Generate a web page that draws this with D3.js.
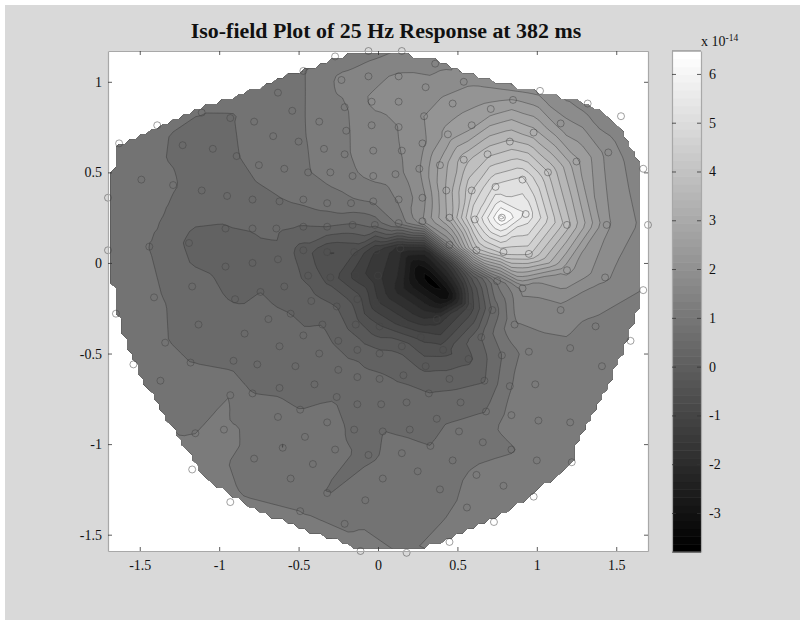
<!DOCTYPE html>
<html>
<head>
<meta charset="utf-8">
<script src="https://cdnjs.cloudflare.com/ajax/libs/d3/7.8.5/d3.min.js"></script>
<style>
body { margin: 0; background: #fff; }
text { font-family: "Liberation Serif", serif; fill: #111; }
</style>
</head>
<body>
<svg id="chart" width="800" height="625"></svg>
<script>
// sensor positions and field value at each one, x 10^-14
var sensorX = [
  -0.06,-0.27,-0.47,-0.63,-0.54,-1.11,-1.39,-1.63,-0.93,-0.78,-0.66,-0.50,-1.23,-1.04,-0.89,-0.75,-0.59,-1.49,-1.29,-1.70,
  -1.11,-0.95,-0.79,-0.62,-0.47,-0.32,-0.17,-0.03,-0.44,-0.30,-0.16,-0.03,-0.34,-0.21,-0.03,-0.37,-0.20,-0.04,-0.21,-0.04,
  -0.23,-0.06,-0.47,-0.32,-0.16,-0.02,-0.96,-0.79,-0.64,-1.19,-1.44,-1.70,-0.47,-0.32,-0.15,-0.01,-0.63,-0.79,-0.96,-0.44,
  -0.30,-0.14,
  0.15,0.36,0.13,0.30,0.54,1.02,1.32,1.53,0.85,0.71,0.47,0.13,0.29,0.13,0.44,0.59,0.98,1.15,0.83,0.28,
  0.15,0.69,0.54,0.39,0.26,0.11,1.45,1.25,1.67,1.07,0.91,0.74,0.59,0.43,0.28,0.13,0.93,0.78,0.61,0.45,
  0.28,0.13,1.19,1.44,1.70,0.45,0.62,0.79,0.95,1.19,1.43,1.67,
  0.75,0.91,0.72,1.15,0.86,1.37,1.59,1.21,0.65,0.95,0.78,0.57,0.41,0.30,0.15,0.01,1.41,0.99,0.83,0.67,
  0.45,0.16,0.01,0.32,0.52,0.18,0.02,0.68,0.84,1.01,1.21,0.37,0.20,0.03,0.51,0.66,0.33,0.15,0.84,1.00,
  1.22,0.47,0.25,0.03,0.62,0.79,0.39,0.98,0.56,0.73,0.45,0.18,
  -1.65,-1.54,-1.41,-1.17,-0.90,-0.74,-0.59,-0.42,-0.26,-0.13,-0.55,-0.69,-1.13,-0.84,-0.47,-0.35,-0.14,-1.34,-0.62,-0.25,
  -0.13,-0.37,-1.18,-0.91,-0.76,-0.52,-0.25,-0.13,-1.37,-0.62,-0.40,-0.93,-0.79,-0.26,-0.13,-0.49,-0.63,-0.32,-0.15,-1.15,
  -0.97,-0.46,-0.60,-0.27,-0.06,-0.78,-0.41,-1.17,-0.55,-0.32,-0.08,-0.93,-0.49,-0.21,-0.11,
  0.14,0.00,-0.01,0.01,0.16,0.37,0.27,0.57
];
var sensorY = [
  1.17,1.14,1.06,0.94,0.84,0.83,0.76,0.66,0.80,0.78,0.70,0.67,0.65,0.63,0.59,0.54,0.52,0.46,0.43,0.36,
  0.40,0.37,0.35,0.34,0.35,0.33,0.33,0.34,0.50,0.50,0.48,0.48,0.63,0.60,0.62,0.78,0.73,0.76,0.86,0.89,
  1.01,1.03,0.20,0.20,0.21,0.21,0.19,0.19,0.19,0.11,0.09,0.07,0.07,0.06,0.06,0.07,0.02,0.00,-0.02,-0.07,
  -0.08,-0.07,
  1.17,1.10,1.03,0.97,1.00,0.95,0.88,0.81,0.90,0.85,0.88,0.89,0.81,0.75,0.71,0.76,0.72,0.77,0.67,0.66,
  0.62,0.60,0.57,0.54,0.52,0.49,0.61,0.56,0.52,0.50,0.46,0.42,0.40,0.40,0.36,0.35,0.27,0.25,0.24,0.25,
  0.23,0.22,0.21,0.21,0.21,0.10,0.07,0.06,0.05,-0.04,-0.08,-0.15,
  -0.10,-0.14,-0.26,-0.26,-0.34,-0.35,-0.43,-0.47,-0.41,-0.49,-0.51,-0.53,-0.48,-0.57,-0.46,-0.50,-0.57,-0.67,-0.68,-0.65,
  -0.64,-0.62,-0.64,-0.72,-0.77,-0.77,-0.78,-0.82,-0.84,-0.87,-0.88,-0.86,-0.92,-0.93,-0.93,-0.99,-1.01,-1.05,-1.03,-1.09,
  -1.10,-1.09,-1.15,-1.19,-1.17,-1.23,-1.25,-1.29,-1.35,-1.43,-1.54,-1.60,
  -0.28,-0.56,-0.19,-0.13,-0.20,-0.16,-0.13,-0.21,-0.24,-0.20,-0.28,-0.31,-0.34,-0.39,-0.40,-0.34,-0.34,-0.44,-0.46,-0.43,
  -0.48,-0.50,-0.55,-0.54,-0.56,-0.57,-0.59,-0.63,-0.65,-0.69,-0.67,-0.73,-0.72,-0.74,-0.78,-0.81,-0.85,-0.88,-0.92,-0.94,
  -0.92,-0.96,-1.02,-1.03,-1.06,-1.08,-1.11,-1.14,-1.19,-1.27,-1.31,-1.32,-1.37,-1.44,-1.59,
  0.08,-0.07,-0.22,-0.35,-0.33,-0.31,-0.41,-0.24
];
var sensorZ = [
  1.0,0.95,0.8,0.62,0.7,0.48,0.55,0.6,0.45,0.62,0.65,0.75,0.4,0.32,0.46,0.6,0.7,0.6,0.52,0.65,
  0.28,0.3,0.35,0.45,0.58,0.65,0.75,0.85,0.8,0.95,1.1,1.25,0.95,1.1,1.4,0.95,1.12,1.4,1.12,1.55,
  1.25,1.4,0.12,0.14,0.1,0.25,0.12,0.18,0.2,0.08,0.48,0.7,-0.35,-0.9,-0.85,-1.6,0.05,-0.22,0.1,-0.3,
  -0.7,-1.4,
  1.2,1.4,1.55,1.6,1.75,1.7,1.3,1.2,2.2,2.3,2.0,1.6,1.84,1.5,2.3,2.4,3.0,2.0,3.6,1.75,
  1.5,3.8,3.4,2.6,1.8,1.35,1.7,2.6,1.25,3.9,5.0,5.0,4.2,2.9,1.7,1.2,5.6,6.4,4.9,3.0,
  1.8,0.9,3.7,1.9,1.35,1.5,3.8,4.4,4.3,2.3,1.55,1.15,
  0.9,1.6,0.2,1.35,1.14,1.05,0.9,1.08,0.14,1.0,0.48,-0.3,-0.7,-0.3,-0.3,-0.1,0.9,0.95,0.8,0.12,
  0.0,0.05,0.22,0.15,0.3,0.35,0.42,0.48,0.95,0.9,0.9,0.4,0.42,0.48,0.6,0.7,0.48,0.6,0.8,0.95,
  0.9,0.68,0.65,0.6,0.88,0.95,0.72,0.95,0.88,0.95,0.9,0.8,
  0.65,0.7,0.55,0.2,0.12,0.14,0.05,-0.05,-0.2,-0.7,0.14,0.2,0.3,0.28,0.2,0.14,-0.4,0.5,0.3,0.1,
  0.05,0.25,0.48,0.35,0.32,0.32,0.25,0.28,0.65,0.42,0.36,0.82,0.48,0.46,0.4,0.48,0.62,0.6,0.42,0.82,
  0.9,0.68,0.46,0.55,0.42,0.75,0.68,0.92,0.72,0.46,0.72,0.85,0.82,0.78,0.9,
  -2.1,-1.8,-1.5,-0.85,-1.4,-1.8,-1.0,-1.2
];

// points inside the dark core where no sensor ring can be seen
var coreX = [0.34,0.26,0.435,0.14,0.30,0.45,0.58,0.58,0.30];
var coreY = [-0.105,-0.04,-0.18,-0.15,0.07,-0.01,-0.07,-0.15,-0.26];
var coreZ = [-3.8,-3.62,-3.62,-2.4,-2.3,-1.7,-0.5,-1.0,-2.3];

// outline of the plotted head region
var outlineX = [-0.19,0.19,0.22,0.35,0.53,0.71,0.895,1.115,1.29,1.42,1.525,1.61,1.665,1.665,1.63,1.525,1.40,1.255,1.22,1.065,0.875,0.77,0.58,0.455,0.30,-0.16,-0.49,-0.825,-1.10,-1.25,-1.39,-1.50,-1.575,-1.64,-1.67,-1.67,-1.64,-1.53,-1.31,-1.06,-0.89,-0.635,-0.41,-0.30];
var outlineY = [1.15,1.15,1.12,1.12,1.055,1.005,0.97,0.92,0.89,0.835,0.75,0.61,0.50,-0.04,-0.28,-0.52,-0.76,-0.98,-1.09,-1.215,-1.335,-1.39,-1.46,-1.52,-1.565,-1.565,-1.46,-1.34,-1.18,-0.965,-0.775,-0.61,-0.465,-0.26,-0.095,0.50,0.64,0.695,0.775,0.875,0.92,1.01,1.08,1.115];

var xTicks = [-1.5,-1,-0.5,0,0.5,1,1.5];
var yTicks = [1,0.5,0,-0.5,-1,-1.5];
var barTicks = [6,5,4,3,2,1,0,-1,-2,-3];
var levelStart = -3.6, levelStep = 0.34, levelCount = 30;
var zMin = -3.8, zMax = 6.47;

var svg = d3.select('#chart');
svg.append('rect').attr('x',5).attr('y',5).attr('width',795).attr('height',615).attr('fill','#d9d9d9');

var x = d3.scaleLinear().domain([-1.70,1.70]).range([108,648]);
var y = d3.scaleLinear().domain([1.17,-1.59]).range([51,551]);
var barY = d3.scaleLinear().domain([zMax,zMin]).range([51,552]);
var grayOf = function(z){
    var g = Math.round(Math.max(0,Math.min(255,(z-zMin)/(zMax-zMin)*255)));
    return 'rgb('+g+','+g+','+g+')';
}

// plot box
svg.append('rect').attr('x',108).attr('y',51).attr('width',540).attr('height',500).attr('fill','#fff');

// grid the sensor values, linear inside each Delaunay triangle, as griddata does
var nx = 100, ny = 100;
var pts = sensorX.map(function(d,i){ return [d,sensorY[i],sensorZ[i]]; });
coreX.forEach(function(d,i){ pts.push([d,coreY[i],coreZ[i]]); });
var delaunay = d3.Delaunay.from(pts, function(p){return p[0]}, function(p){return p[1]});
var tris = [];
for(var t=0;t<delaunay.triangles.length;t+=3){
    var a = pts[delaunay.triangles[t]], b = pts[delaunay.triangles[t+1]], c = pts[delaunay.triangles[t+2]];
    tris.push([a,b,c,(b[1]-c[1])*(a[0]-c[0])+(c[0]-b[0])*(a[1]-c[1])]);
}
var sample = function(px,py){
    for(var k=0;k<tris.length;k++){
        var tr = tris[k], a = tr[0], b = tr[1], c = tr[2];
        var u = ((b[1]-c[1])*(px-c[0])+(c[0]-b[0])*(py-c[1]))/tr[3];
        var v = ((c[1]-a[1])*(px-c[0])+(a[0]-c[0])*(py-c[1]))/tr[3];
        var w = 1-u-v;
        if(u>=-1e-9 && v>=-1e-9 && w>=-1e-9){ return u*a[2]+v*b[2]+w*c[2]; }
    }
    return pts[delaunay.find(px,py)][2];
}
var gridX = d3.scaleLinear().domain([0,nx-1]).range(x.domain());
var gridY = d3.scaleLinear().domain([0,ny-1]).range(y.domain());
var outline = outlineX.map(function(d,i){ return [d,outlineY[i]]; });
var values = new Array(nx*ny), mask = new Array(nx*ny);
for(var j=0;j<ny;j++){
    for(var i=0;i<nx;i++){
        var gx = gridX(i), gy = gridY(j);
        values[j*nx+i] = sample(gx,gy);
        mask[j*nx+i] = d3.polygonContains(outline,[gx,gy]) ? 1 : 0;
    }
}

var gridPath = d3.geoPath(d3.geoTransform({
    point: function(px,py){ this.stream.point(x(gridX(px-0.5)), y(gridY(py-0.5))); }
}));

svg.append('clipPath').attr('id','head')
    .append('path')
    .attr('d', gridPath(d3.contours().size([nx,ny]).thresholds([0.5])(mask)[0]));

var levels = d3.range(levelCount).map(function(k){ return levelStart+k*levelStep; });
var field = svg.append('g').attr('clip-path','url(#head)');
field.append('rect').attr('x',108).attr('y',51).attr('width',540).attr('height',500).attr('fill',grayOf(zMin));
// each band is coloured one level up, it matches the picture better
field.selectAll('path.fill')
    .data(d3.contours().size([nx,ny]).thresholds(levels)(values))
    .enter().append('path')
    .attr('class','fill')
    .attr('d',gridPath)
    .attr('fill',function(d){ return grayOf(d.value+levelStep); })
    .attr('stroke','#2a2a2a')
    .attr('stroke-opacity',0.55)
    .attr('stroke-width',0.7);

// sensors
svg.append('g').selectAll('circle')
    .data(sensorX)
    .enter().append('circle')
    .attr('cx',function(d){ return x(d); })
    .attr('cy',function(d,i){ return y(sensorY[i]); })
    .attr('r',3.5)
    .attr('fill','none')
    .attr('stroke','#444')
    .attr('stroke-opacity',0.5)
    .attr('stroke-width',1);

// axes, ticks inward on all four sides
var styleAxis = function(g){
    g.select('.domain').attr('stroke','#a8a8a8').attr('stroke-width',1.2);
    g.selectAll('.tick line').attr('stroke','#333').attr('stroke-width',0.8);
    g.selectAll('.tick text').style('font-size','14px').style('font-family','"Liberation Serif", serif').attr('fill','#111');
}
svg.append('g').attr('transform','translate(0,551)')
    .call(d3.axisBottom(x).tickValues(xTicks).tickSize(-4).tickSizeOuter(0).tickPadding(9).tickFormat(String)).call(styleAxis);
svg.append('g').attr('transform','translate(0,51)')
    .call(d3.axisTop(x).tickValues(xTicks).tickSize(-4).tickSizeOuter(0).tickFormat('')).call(styleAxis);
svg.append('g').attr('transform','translate(108,0)')
    .call(d3.axisLeft(y).tickValues(yTicks).tickSize(-4).tickSizeOuter(0).tickPadding(6).tickFormat(String)).call(styleAxis);
svg.append('g').attr('transform','translate(648,0)')
    .call(d3.axisRight(y).tickValues(yTicks).tickSize(-4).tickSizeOuter(0).tickFormat('')).call(styleAxis);

// colorbar, 64 steps like the gray colormap
var barSteps = d3.range(64);
var barStep = d3.scaleBand().domain(barSteps).range([552,51]);
svg.append('g').selectAll('rect')
    .data(barSteps)
    .enter().append('rect')
    .attr('x',672).attr('width',29)
    .attr('y',function(d){ return barStep(d); })
    .attr('height',barStep.bandwidth()+0.5)
    .attr('fill',function(d){ var g = Math.round(d/63*255); return 'rgb('+g+','+g+','+g+')'; });
svg.append('g').attr('transform','translate(701,0)')
    .call(d3.axisRight(barY).tickValues(barTicks).tickSize(-4).tickSizeOuter(0).tickPadding(8).tickFormat(String)).call(styleAxis);
svg.append('g').attr('transform','translate(672,0)')
    .call(d3.axisLeft(barY).tickValues(barTicks).tickSize(-4).tickSizeOuter(0).tickFormat('')).call(styleAxis);
svg.append('path').attr('d','M672,552H701M672,51H701').attr('stroke','#777').attr('stroke-width',1);

// labels
svg.append('text').attr('x',386).attr('y',38).attr('text-anchor','middle')
    .style('font-size','21.9px').style('font-weight','bold')
    .text('Iso-field Plot of 25 Hz Response at 382 ms');
var expo = svg.append('text').attr('x',701).attr('y',46).style('font-size','14px');
expo.append('tspan').text('x 10');
expo.append('tspan').attr('dy',-5).style('font-size','9.5px').text('-14');
</script>
</body>
</html>
